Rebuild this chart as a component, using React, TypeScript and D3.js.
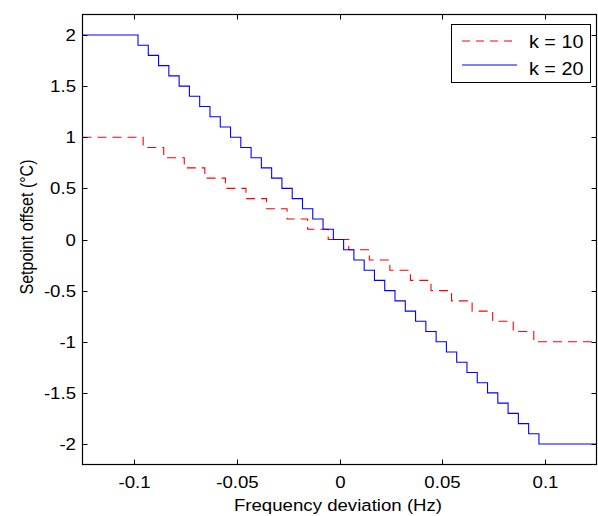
import React from "react";
import * as d3 from "d3";

// k = 10 series: frequency breakpoints (Hz) where the setpoint steps, and levels (°C)
const k10Breaks = [
  -0.0955, -0.0855, -0.0755, -0.0655, -0.0555, -0.0455, -0.0355, -0.0255, -0.0155, -0.0055,
  0.0045, 0.0145, 0.0245, 0.0345, 0.0445, 0.0545, 0.0645, 0.0745, 0.0845, 0.0945,
];
const k10Levels = [
  1, 0.9, 0.8, 0.7, 0.6, 0.5, 0.4, 0.3, 0.2, 0.1, 0,
  -0.1, -0.2, -0.3, -0.4, -0.5, -0.6, -0.7, -0.8, -0.9, -1,
];

// k = 20 series
const k20Breaks = [
  -0.098, -0.093, -0.088, -0.083, -0.078, -0.073, -0.068, -0.063, -0.058, -0.053,
  -0.048, -0.043, -0.038, -0.033, -0.028, -0.023, -0.018, -0.013, -0.008, -0.003,
  0.002, 0.007, 0.012, 0.017, 0.022, 0.027, 0.032, 0.037, 0.042, 0.047,
  0.052, 0.057, 0.062, 0.067, 0.072, 0.077, 0.082, 0.087, 0.092, 0.097,
];
const k20Levels = [
  2, 1.9, 1.8, 1.7, 1.6, 1.5, 1.4, 1.3, 1.2, 1.1, 1,
  0.9, 0.8, 0.7, 0.6, 0.5, 0.4, 0.3, 0.2, 0.1, 0,
  -0.1, -0.2, -0.3, -0.4, -0.5, -0.6, -0.7, -0.8, -0.9, -1,
  -1.1, -1.2, -1.3, -1.4, -1.5, -1.6, -1.7, -1.8, -1.9, -2,
];

const xDomain = [-0.125, 0.125];
const yDomain = [-2.2, 2.2];
const xTicks = [-0.1, -0.05, 0, 0.05, 0.1];
const xTickLabels = ["-0.1", "-0.05", "0", "0.05", "0.1"];
const yTicks = [-2, -1.5, -1, -0.5, 0, 0.5, 1, 1.5, 2];
const yTickLabels = ["-2", "-1.5", "-1", "-0.5", "0", "0.5", "1", "1.5", "2"];
const legendLabels = ["k = 10", "k = 20"];
const xLabel = "Frequency deviation (Hz)";
const yLabel = "Setpoint offset (\u00B0C)";

const W = 598;
const H = 516;
const L = 82.5, R = 596.5, T = 14.5, B = 464.5;
const SX = 1.11;
const FS = 16.8;
const FONT = "'Liberation Sans', Arial, Helvetica, sans-serif";

function stepPoints(breaks: number[], levels: number[]): [number, number][] {
  const pts: [number, number][] = [[xDomain[0], levels[0]]];
  breaks.forEach((b, i) => pts.push([b, levels[i + 1]]));
  pts.push([xDomain[1], levels[levels.length - 1]]);
  return pts;
}

function Txt(props: { x: number; y: number; anchor?: string; size?: number; sx?: number; rotate?: boolean; children: React.ReactNode }) {
  const { x, y, anchor = "start", size = FS, sx = SX, rotate = false, children } = props;
  return (
    <text
      transform={`translate(${x},${y}) scale(${sx},1)${rotate ? " rotate(-90)" : ""}`}
      textAnchor={anchor}
      fontSize={size}
      fontFamily={FONT}
      fill="#000"
    >
      {children}
    </text>
  );
}

export default function App() {
  const x = d3.scaleLinear().domain(xDomain).range([L, R]);
  const y = d3.scaleLinear().domain(yDomain).range([B, T]);
  const line = d3
    .line<[number, number]>()
    .x((d) => x(d[0]))
    .y((d) => y(d[1]))
    .curve(d3.curveStepAfter);

  const p10 = line(stepPoints(k10Breaks, k10Levels)) || "";
  const p20 = line(stepPoints(k20Breaks, k20Levels)) || "";
  const tl = 5;

  return (
    <svg
      width={W}
      height={H}
      style={{ position: "absolute", left: 0, top: 0, background: "#fff" }}
    >
      <rect x={0} y={0} width={W} height={H} fill="#fff" />
      <defs>
        <clipPath id="plotclip">
          <rect x={L} y={T} width={R - L} height={B - T} />
        </clipPath>
      </defs>
      <g clipPath="url(#plotclip)">
        <path d={p10} fill="none" stroke="#ff0000" strokeWidth={1.1} strokeDasharray="9,6" />
        <path d={p20} fill="none" stroke="#0000ff" strokeWidth={1.1} />
      </g>
      {/* ticks */}
      {xTicks.map((t, i) => {
        const px = Math.round(x(t)) + 0.5;
        return (
          <g key={"xt" + i}>
            <line x1={px} x2={px} y1={B} y2={B - tl} stroke="#000" />
            <line x1={px} x2={px} y1={T} y2={T + tl} stroke="#000" />
            <Txt x={px} y={487.5} anchor="middle">{xTickLabels[i]}</Txt>
          </g>
        );
      })}
      {yTicks.map((t, i) => {
        const py = Math.round(y(t)) + 0.5;
        return (
          <g key={"yt" + i}>
            <line x1={L} x2={L + tl} y1={py} y2={py} stroke="#000" />
            <line x1={R} x2={R - tl} y1={py} y2={py} stroke="#000" />
            <Txt x={76} y={py + 5.8} anchor="end">{yTickLabels[i]}</Txt>
          </g>
        );
      })}
      {/* axes box */}
      <rect x={L} y={T} width={R - L} height={B - T} fill="none" stroke="#000" strokeWidth={1.2} />
      {/* labels */}
      <Txt x={338} y={511} anchor="middle">{xLabel}</Txt>
      <Txt x={33} y={227} anchor="middle" size={16} rotate>{yLabel}</Txt>
      {/* legend */}
      <g>
        <rect x={451.5} y={24.5} width={139} height={58} fill="#fff" stroke="#000" strokeWidth={1} />
        <line x1={462} x2={517} y1={41} y2={41} stroke="#ff0000" strokeWidth={1.1} strokeDasharray="8,6" />
        <line x1={462} x2={517} y1={65} y2={65} stroke="#0000ff" strokeWidth={1.1} />
        <Txt x={529} y={48} size={17.5} sx={1.13}>{legendLabels[0]}</Txt>
        <Txt x={529} y={75} size={17.5} sx={1.13}>{legendLabels[1]}</Txt>
      </g>
    </svg>
  );
}
